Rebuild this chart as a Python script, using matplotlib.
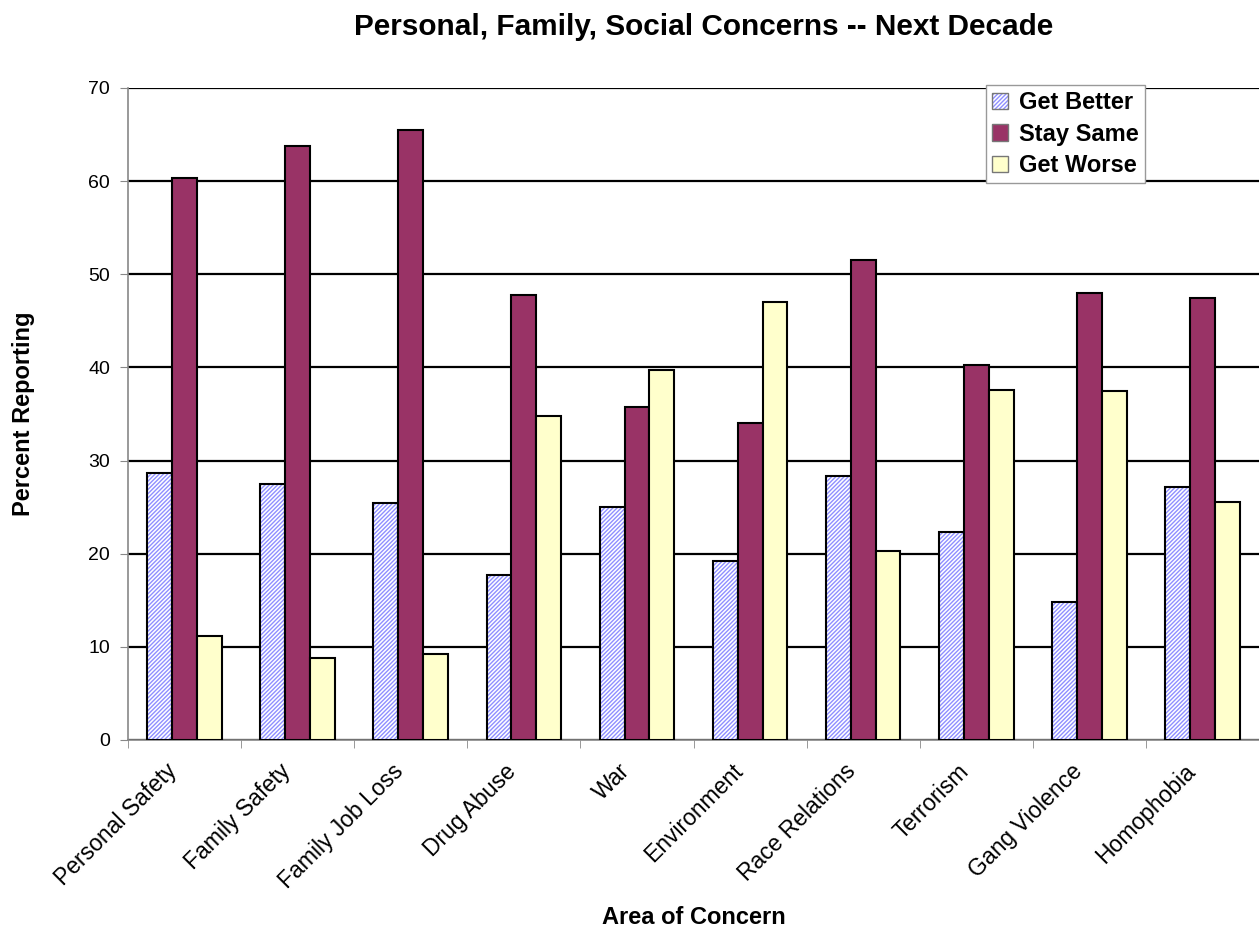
import matplotlib
matplotlib.use("Agg")
import matplotlib.pyplot as plt
import matplotlib.transforms as mtransforms
import numpy as np
from matplotlib.patches import Patch
from matplotlib.ticker import FixedLocator

plt.rcParams['font.family'] = ['Liberation Sans', 'DejaVu Sans']
plt.rcParams['hatch.linewidth'] = 1.0

categories = ["Personal Safety", "Family Safety", "Family Job Loss", "Drug Abuse",
              "War", "Environment", "Race Relations", "Terrorism",
              "Gang Violence", "Homophobia"]
get_better = [28.7, 27.5, 25.4, 17.7, 25.0, 19.2, 28.3, 22.3, 14.8, 27.2]
stay_same = [60.3, 63.8, 65.5, 47.8, 35.7, 34.0, 51.5, 40.3, 48.0, 47.5]
get_worse = [11.2, 8.8, 9.2, 34.8, 39.7, 47.0, 20.3, 37.6, 37.5, 25.6]
yticks = [0, 10, 20, 30, 40, 50, 60, 70]

fig = plt.figure(figsize=(12.59, 9.33), dpi=100)
ax = fig.add_axes([0.1017, 0.2069, 0.8983, 0.6988])

x = np.arange(len(categories))
w = 0.22
hatch_blue = '#8f8fff'
hatch = '////////'

# hatched fill for "Get Better", then a plain black outline on top
ax.bar(x - w, get_better, w, facecolor='white', edgecolor=hatch_blue,
       hatch=hatch, linewidth=0, zorder=2)
ax.bar(x - w, get_better, w, facecolor='none', edgecolor='black',
       linewidth=1.5, zorder=3)
ax.bar(x, stay_same, w, facecolor='#993366', edgecolor='black',
       linewidth=1.5, zorder=3)
ax.bar(x + w, get_worse, w, facecolor='#FFFFCC', edgecolor='black',
       linewidth=1.5, zorder=3)

ax.set_xlim(-0.5, len(categories) - 0.5)
ax.set_ylim(0, 70)
ax.set_yticks(yticks)
ax.yaxis.grid(True, color='black', linewidth=1.6, zorder=0)
ax.set_axisbelow(True)

for s in ['top', 'right']:
    ax.spines[s].set_visible(False)
for s in ['left', 'bottom']:
    ax.spines[s].set_color('#888888')
    ax.spines[s].set_linewidth(1.2)

ax.tick_params(axis='y', length=6, color='#888888', labelsize=14, pad=7)

# category labels at centres, tick marks at category boundaries
ax.set_xticks(x)
ax.set_xticklabels(categories, rotation=45, ha='right', va='center',
                   rotation_mode='anchor', fontsize=16.5)
ax.tick_params(axis='x', which='major', length=0, pad=20)
shift = mtransforms.ScaledTranslation(-11 / 100, 0, fig.dpi_scale_trans)
for lbl in ax.get_xticklabels():
    lbl.set_transform(lbl.get_transform() + shift)
ax.xaxis.set_minor_locator(FixedLocator(np.arange(len(categories)) - 0.5))
ax.tick_params(axis='x', which='minor', length=6, color='#888888')

ax.set_ylabel("Percent Reporting", fontsize=17, fontweight='bold', va='center')
ax.yaxis.set_label_coords(-0.092, 0.5)
ax.set_xlabel("Area of Concern", fontsize=17, fontweight='bold', va='center')
ax.xaxis.set_label_coords(0.5, -0.273)
fig.text(0.559, 0.971, "Personal, Family, Social Concerns -- Next Decade",
         ha='center', va='center', fontsize=21.4, fontweight='bold')

h_better = (Patch(facecolor='white', edgecolor=hatch_blue, hatch=hatch, linewidth=0),
            Patch(facecolor='none', edgecolor='#777777', linewidth=1))
h_same = Patch(facecolor='#993366', edgecolor='#777777', linewidth=1)
h_worse = Patch(facecolor='#FFFFCC', edgecolor='#777777', linewidth=1)
leg = ax.legend([h_better, h_same, h_worse], ["Get Better", "Stay Same", "Get Worse"],
                loc='upper right', bbox_to_anchor=(0.899, 1.004), fancybox=False,
                framealpha=1, edgecolor='#999999', prop={'weight': 'bold', 'size': 17},
                handlelength=0.7, handleheight=0.7, handletextpad=0.45,
                borderpad=0.25, labelspacing=0.36, borderaxespad=0)
leg.get_frame().set_linewidth(1.0)

fig.savefig("out.png", dpi=100)
